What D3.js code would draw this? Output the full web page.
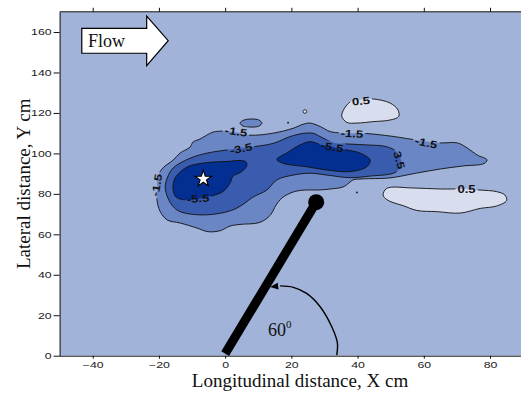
<!DOCTYPE html>
<html><head><meta charset="utf-8">
<script src="https://cdn.jsdelivr.net/npm/d3@7"></script>
<style>body{margin:0;background:#fff}svg{display:block}</style>
</head><body>
<svg id="chart" width="521" height="394"></svg>
<script>
// ---- axis ticks ----
const xTicks = [-40, -20, 0, 20, 40, 60, 80];
const yTicks = [0, 20, 40, 60, 80, 100, 120, 140, 160];

// ---- contour outlines, points as [X cm, Y cm] ----
const lvlM15Main = [[-20.6,81.9],[-20.3,88.8],[-18.8,92.8],[-15.7,96.7],[-13.6,100.2],[-10.6,103.1],[-9.7,105.6],[-7.6,107.1],[-3.7,110.5],[-0.9,111.0],[3.3,110.5],[7.5,109.0],[14.5,110.0],[20.5,112.4],[23.5,114.4],[25.6,115.0],[28.7,113.3],[31.7,110.8],[35.3,110.1],[42.8,109.8],[50.7,108.4],[56.7,106.9],[65.0,105.2],[70.1,105.2],[73.1,102.7],[76.1,99.2],[79.1,96.8],[78.2,95.0],[71.9,93.8],[65.0,92.3],[57.9,90.3],[49.8,87.9],[41.6,87.4],[38.6,86.9],[37.4,85.4],[35.6,83.4],[31.7,82.4],[28.1,81.9],[24.1,81.9],[20.5,80.9],[17.2,78.0],[15.4,74.5],[13.6,69.4],[10.5,65.9],[4.5,64.9],[1.5,64.1],[-1.5,61.8],[-5.2,61.3],[-8.5,63.1],[-13.6,65.6],[-17.5,67.1],[-19.7,71.5],[-20.6,77.0]];
const lvlM15Small = [[4.5,115.0],[5.7,116.5],[7.8,117.0],[10.2,116.5],[11.1,115.0],[10.2,113.5],[7.8,113.0],[5.4,113.5]];
const lvlM35 = [[-18.1,83.4],[-17.5,87.8],[-15.7,92.8],[-10.6,97.6],[-5.6,100.1],[0.5,101.7],[4.5,102.7],[8.5,103.3],[14.6,105.0],[19.6,108.3],[23.6,109.9],[26.6,109.9],[28.7,108.3],[32.7,105.3],[37.7,104.6],[42.8,104.2],[48.8,103.3],[51.8,100.8],[53.1,96.7],[52.8,92.6],[50.8,90.2],[43.8,88.8],[37.7,88.0],[30.7,89.3],[25.6,90.2],[20.6,89.3],[15.6,86.9],[12.6,81.9],[8.4,78.4],[6.0,75.5],[3.0,72.5],[-1.5,70.4],[-7.6,69.6],[-13.6,71.2],[-15.7,73.7],[-17.3,78.0]];
const lvlM55West = [[-15.7,81.9],[-15.4,86.8],[-14.2,89.8],[-11.5,93.3],[-7.6,95.0],[-3.1,95.8],[0.6,96.0],[4.5,96.5],[6.3,95.8],[6.5,93.8],[4.8,90.8],[2.4,88.8],[1.5,85.4],[-0.6,81.2],[-4.6,78.7],[-8.5,77.5],[-12.1,77.0],[-14.8,78.4]];
const lvlM55East = [[15.6,97.0],[18.6,100.2],[22.6,104.2],[25.6,105.8],[28.7,104.4],[32.9,102.9],[36.7,101.7],[40.7,100.2],[43.8,96.7],[42.8,93.4],[37.7,91.0],[30.7,91.8],[24.6,93.4],[17.5,95.1]];
const lvlP05North = [[35.2,118.5],[36.5,123.4],[38.3,125.9],[41.0,126.6],[44.7,126.9],[49.8,124.9],[52.2,121.5],[52.4,118.2],[49.8,116.5],[44.7,115.7],[39.8,115.0],[36.8,115.3]];
const lvlP05South = [[47.7,79.4],[48.8,82.7],[56.7,82.9],[65.0,82.4],[72.8,82.4],[77.0,81.9],[82.0,81.1],[84.5,79.4],[85.0,76.7],[82.0,74.0],[77.0,72.8],[71.0,70.5],[64.0,71.2],[57.9,71.8],[53.7,74.2],[50.7,75.7],[48.8,77.2]];
// tiny closed contours
const tinyRings = [[24.1,120.7]];
const tinyDots = [[19.0,115.2],[39.8,80.7]];

// contour labels: value, X, Y, rotation
const labelValues = ["-1.5","-1.5","-3.5","-5.5","-5.5","3.5","-1.5","-1.5","0.5","0.5"];
const labelX = [-20.7, 3.3, 4.8, -8.2, 32.3, 52.6, 38.3, 60.7, 41.0, 72.9];
const labelY = [84.4, 110.8, 102.4, 77.7, 103.2, 96.7, 109.8, 105.3, 125.9, 82.4];
const labelAngle = [-80, 8, -12, -3, 10, 75, 3, 12, -5, 0];

// source position, pointer geometry, flow arrow
const sourceStar = [-6.6, 87.4];
const pointerBase = [0, 1];
const pointerTip = [27.5, 75.9];
const angleArc = [[33.7,0.3],[33.9,6.3],[32.2,14.3],[28.7,24.2],[24.6,30.8],[20.6,33.8],[16.6,34.5]];
const arcHead = [13.6, 33.9];
const flowArrow = [[-43.3,161.8],[-23.7,161.8],[-23.7,167.9],[-17.2,155.7],[-23.7,143.4],[-23.7,149.5],[-43.3,149.5]];

const colors = {bg:"#a1b3d9", m15:"#6a86c4", m35:"#3a5cae", m55:"#042f92", p05:"#d8deee"};

const svg = d3.select("#chart");
const x = d3.scaleLinear().domain([-50, 95]).range([59.6, 59.6 + 145*3.311]);
const y = d3.scaleLinear().domain([0, 170]).range([355.7, 355.7 - 170*2.023]);
const W = 521;

const defs = svg.append("defs");
defs.append("clipPath").attr("id","plotClip").append("rect")
  .attr("x", x(-50)).attr("y", y(170)).attr("width", W - x(-50)).attr("height", y(0) - y(170));

const line = d3.line().x(d => x(d[0])).y(d => y(d[1])).curve(d3.curveCatmullRomClosed.alpha(0.5));

const plot = svg.append("g").attr("clip-path","url(#plotClip)");
plot.append("rect").attr("x", x(-50)).attr("y", y(170)).attr("width", W - x(-50)).attr("height", y(0) - y(170)).attr("fill", colors.bg);

const shapes = [
  [lvlM15Main, colors.m15], [lvlM15Small, colors.m15], [lvlM35, colors.m35],
  [lvlM55West, colors.m55], [lvlM55East, colors.m55],
  [lvlP05North, colors.p05], [lvlP05South, colors.p05]
];
plot.selectAll("path.fill").data(shapes).join("path").attr("class","fill")
  .attr("d", d => line(d[0])).attr("fill", d => d[1]).attr("stroke","none");

// labels and a mask that breaks the contour lines under them
const mask = defs.append("mask").attr("id","lblMask").attr("maskUnits","userSpaceOnUse")
  .attr("x",0).attr("y",0).attr("width",W).attr("height",394);
mask.append("rect").attr("width",W).attr("height",394).attr("fill","#fff");

const lines = plot.append("g").attr("mask","url(#lblMask)");
lines.selectAll("path").data(shapes).join("path")
  .attr("d", d => line(d[0])).attr("fill","none").attr("stroke","#111").attr("stroke-width",0.9);
lines.selectAll("circle.ring").data(tinyRings).join("circle").attr("class","ring")
  .attr("cx", d => x(d[0])).attr("cy", d => y(d[1])).attr("r",1.8)
  .attr("fill", colors.p05).attr("stroke","#111").attr("stroke-width",0.8);
plot.selectAll("circle.dot").data(tinyDots).join("circle").attr("class","dot")
  .attr("cx", d => x(d[0])).attr("cy", d => y(d[1])).attr("r",0.9).attr("fill","#111");

const lblScale = 1.25;
labelValues.forEach((t, i) => {
  const tr = `translate(${x(labelX[i])},${y(labelY[i])}) rotate(${labelAngle[i]})`;
  const txt = plot.append("text").attr("transform", tr + ` scale(${lblScale},1)`)
    .attr("text-anchor","middle").attr("dy","0.36em")
    .style("font-family","Liberation Sans, Arial, sans-serif").style("font-weight","bold")
    .style("font-size","10.5px").attr("fill","#111").text(t);
  const w = txt.node().getComputedTextLength() * lblScale + 4;
  mask.append("rect").attr("transform", tr).attr("x", -w/2).attr("y", -5.5).attr("width", w).attr("height", 11).attr("fill","#000");
});

// pointer, source ball and angle annotation
svg.append("line").attr("x1", x(pointerBase[0])).attr("y1", y(pointerBase[1]))
  .attr("x2", x(pointerTip[0])).attr("y2", y(pointerTip[1]))
  .attr("stroke","#000").attr("stroke-width",9);
svg.append("circle").attr("cx", x(pointerTip[0])).attr("cy", y(pointerTip[1])).attr("r",8).attr("fill","#000");
svg.append("path").attr("d", d3.line().x(d => x(d[0])).y(d => y(d[1])).curve(d3.curveCatmullRom)(angleArc))
  .attr("fill","none").attr("stroke","#000").attr("stroke-width",1.4);
{
  const hx = x(arcHead[0]), hy = y(arcHead[1]);
  const bx = x(angleArc[angleArc.length-1][0]), by = y(angleArc[angleArc.length-1][1]);
  const ang = Math.atan2(hy - by, hx - bx);
  const L = 8, Wd = 3.5;
  const p = [[hx, hy],
    [hx - L*Math.cos(ang) + Wd*Math.sin(ang), hy - L*Math.sin(ang) - Wd*Math.cos(ang)],
    [hx - L*Math.cos(ang) - Wd*Math.sin(ang), hy - L*Math.sin(ang) + Wd*Math.cos(ang)]];
  svg.append("path").attr("d", "M" + p.map(q => q.join(",")).join("L") + "Z").attr("fill","#000");
}
const deg = svg.append("text").attr("x", 268).attr("y", 336)
  .style("font-family","Liberation Serif, Times New Roman, serif").style("font-size","18px").attr("fill","#111");
deg.append("tspan").text("60");
deg.append("tspan").attr("dy", -8).style("font-size","11px").text("0");

// source marker
svg.append("path").attr("transform", `translate(${x(sourceStar[0])},${y(sourceStar[1])})`)
  .attr("d", d3.symbol(d3.symbolStar).size(85)()).attr("fill","#fff").attr("stroke","#000").attr("stroke-width",1.1);

// flow direction arrow
svg.append("path").attr("d", "M" + flowArrow.map(d => [x(d[0]), y(d[1])].join(",")).join("L") + "Z")
  .attr("fill","#fff").attr("stroke","#000").attr("stroke-width",1.2);
svg.append("text").attr("x", 88).attr("y", 46.7)
  .style("font-family","Liberation Serif, Times New Roman, serif").style("font-size","18px").attr("fill","#111").text("Flow");

// axes
const tickFont = g => g.selectAll("text").style("font-family","Liberation Sans, Arial, sans-serif")
  .style("font-size","8.5px").attr("fill","#222");
const gx = svg.append("g").attr("transform", `translate(0,${y(0)})`)
  .call(d3.axisBottom(x).tickValues(xTicks).tickSize(3).tickSizeOuter(0));
gx.select(".domain").attr("d", `M${x(-50)},0.5H${W}`);
gx.call(tickFont);
gx.selectAll(".tick text").attr("y", null).attr("dy", null)
  .attr("transform", "translate(0,12) scale(1.45,1)");
const gt = svg.append("g").attr("transform", `translate(0,${y(170)})`)
  .call(d3.axisTop(x).tickValues(xTicks).tickSize(4).tickSizeOuter(0).tickFormat(""));
gt.select(".domain").attr("d", `M${x(-50)},0H${W}`);
const gy = svg.append("g").attr("transform", `translate(${x(-50)},0)`)
  .call(d3.axisLeft(y).tickValues(yTicks).tickSize(6).tickSizeOuter(0));
gy.call(tickFont);
gy.selectAll(".tick text").attr("x", null).attr("dy", "0.33em")
  .attr("transform", "translate(-8,0) scale(1.45,1)");
svg.selectAll(".domain, .tick line").attr("stroke","#111");

svg.append("text").attr("x", 300).attr("y", 387).attr("text-anchor","middle")
  .style("font-family","Liberation Serif, Times New Roman, serif").style("font-size","19px").attr("fill","#111")
  .text("Longitudinal distance, X cm");
svg.append("text").attr("transform", `translate(30,${(y(0)+y(170))/2}) rotate(-90)`).attr("text-anchor","middle")
  .style("font-family","Liberation Serif, Times New Roman, serif").style("font-size","19px").attr("fill","#111")
  .text("Lateral distance, Y cm");
</script>
</body></html>
